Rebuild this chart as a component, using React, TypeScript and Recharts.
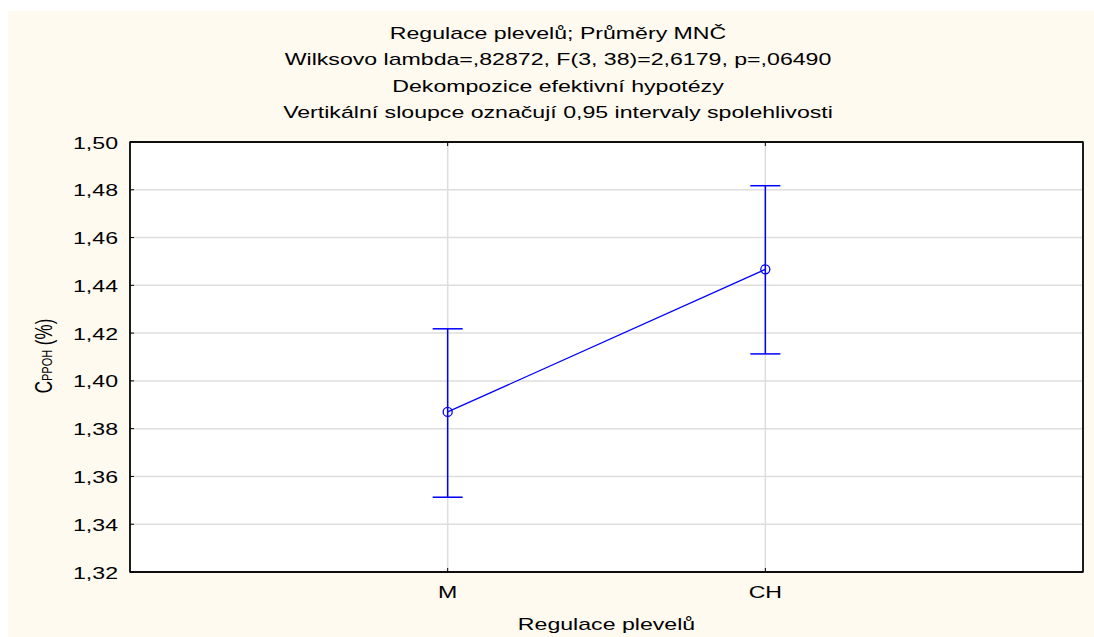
import React from 'react';
import { ComposedChart, Line, XAxis, YAxis, CartesianGrid, ErrorBar, ReferenceArea } from 'recharts';

const categories = ['M', 'CH'];
const means = [1.387, 1.4467];
const ciLow = [1.3513, 1.4113];
const ciHigh = [1.4218, 1.4817];
const yTicks = [1.32, 1.34, 1.36, 1.38, 1.4, 1.42, 1.44, 1.46, 1.48, 1.5];
const titleLines = [
  'Regulace plevelů; Průměry MNČ',
  'Wilksovo lambda=,82872, F(3, 38)=2,6179, p=,06490',
  'Dekompozice efektivní hypotézy',
  'Vertikální sloupce označují 0,95 intervaly spolehlivosti',
];
const xTitle = 'Regulace plevelů';

const FONT = '"Liberation Sans", Arial, sans-serif';
const SX = 1.36; // glyphs in the original are wider than Arial
const BLUE = '#0000ff';
const X_DOMAIN = [0, categories.length + 1];
const Y_DOMAIN = [1.32, 1.5];

const table = categories.map((c, i) => ({
  pos: i + 1,
  name: c,
  mean: means[i],
  err: [means[i] - ciLow[i], ciHigh[i] - means[i]],
}));

const XTick = (props: any) => {
  const { x, y, payload } = props;
  return (
    <text transform={`translate(${x},${y + 26}) scale(${SX},1)`} textAnchor="middle"
      fontSize={17} fontFamily={FONT} fill="#000">
      {categories[payload.value - 1]}
    </text>
  );
};

const YTick = (props: any) => {
  const { x, y, payload } = props;
  return (
    <text transform={`translate(${x - 12},${y + 6.5}) scale(${SX},1)`} textAnchor="end"
      fontSize={17} fontFamily={FONT} fill="#000">
      {payload.value.toFixed(2).replace('.', ',')}
    </text>
  );
};

const Empty = () => <g />;

export default function App() {
  return (
    <div style={{ position: 'absolute', left: 8, top: 11, width: 1086, height: 626, background: '#fffaf0' }}>
      <ComposedChart width={1086} height={626} data={table}
        margin={{ top: 131, right: 11, bottom: 35, left: 62 }}>
        <CartesianGrid stroke="#dedede" strokeWidth={1.5} fill="#ffffff" />
        <XAxis dataKey="pos" type="number" domain={X_DOMAIN} ticks={table.map(d => d.pos)}
          height={30} tickSize={-4} tickMargin={4} tick={<XTick />}
          axisLine={{ stroke: '#000', strokeWidth: 1.3 }} tickLine={{ stroke: '#000' }}
          label={{ content: () => (
            <text transform={`translate(598.5,619) scale(${SX},1)`} textAnchor="middle"
              fontSize={17} fontFamily={FONT} fill="#000">{xTitle}</text>
          ) }} />
        <XAxis xAxisId="top" orientation="top" mirror dataKey="pos" type="number"
          domain={X_DOMAIN} ticks={table.map(d => d.pos)} height={1}
          tickSize={4} tick={<Empty />} axisLine={{ stroke: '#000', strokeWidth: 1.3 }} tickLine={{ stroke: '#000' }} />
        <YAxis type="number" domain={Y_DOMAIN} ticks={yTicks} width={60} interval={0}
          tickSize={-4} tickMargin={4} tick={<YTick />}
          axisLine={{ stroke: '#000', strokeWidth: 1.3 }} tickLine={{ stroke: '#000' }}
          label={{ content: () => (
            <text transform={`translate(44,345) rotate(-90) scale(1,${SX})`} textAnchor="middle"
              fontSize={17} fontFamily={FONT} fill="#000">
              <tspan>C</tspan><tspan fontSize={11}>PPOH</tspan><tspan> (%)</tspan>
            </text>
          ) }} />
        <YAxis yAxisId="right" orientation="right" mirror type="number" domain={Y_DOMAIN} ticks={yTicks}
          width={1} interval={0} tickSize={4} tick={<Empty />}
          axisLine={{ stroke: '#000', strokeWidth: 1.3 }} tickLine={{ stroke: '#000' }} />
        <ReferenceArea x1={X_DOMAIN[0]} x2={X_DOMAIN[1]} y1={Y_DOMAIN[0]} y2={Y_DOMAIN[1]}
          fill="none" fillOpacity={0} stroke="#000" strokeWidth={1.3} strokeOpacity={1} />
        <Line dataKey="mean" stroke={BLUE} strokeWidth={1.3} isAnimationActive={false}
          dot={{ r: 4.5, stroke: BLUE, strokeWidth: 1.3, fill: 'none' }} activeDot={false}>
          <ErrorBar dataKey="err" direction="y" width={15} stroke={BLUE} strokeWidth={1.5}
            isAnimationActive={false} />
        </Line>
        <g>
          {titleLines.map((t, i) => (
            <text key={i} transform={`translate(550,${28 + i * 26.4}) scale(${SX},1)`} textAnchor="middle"
              fontSize={17} fontFamily={FONT} fill="#000">{t}</text>
          ))}
        </g>
      </ComposedChart>
    </div>
  );
}
